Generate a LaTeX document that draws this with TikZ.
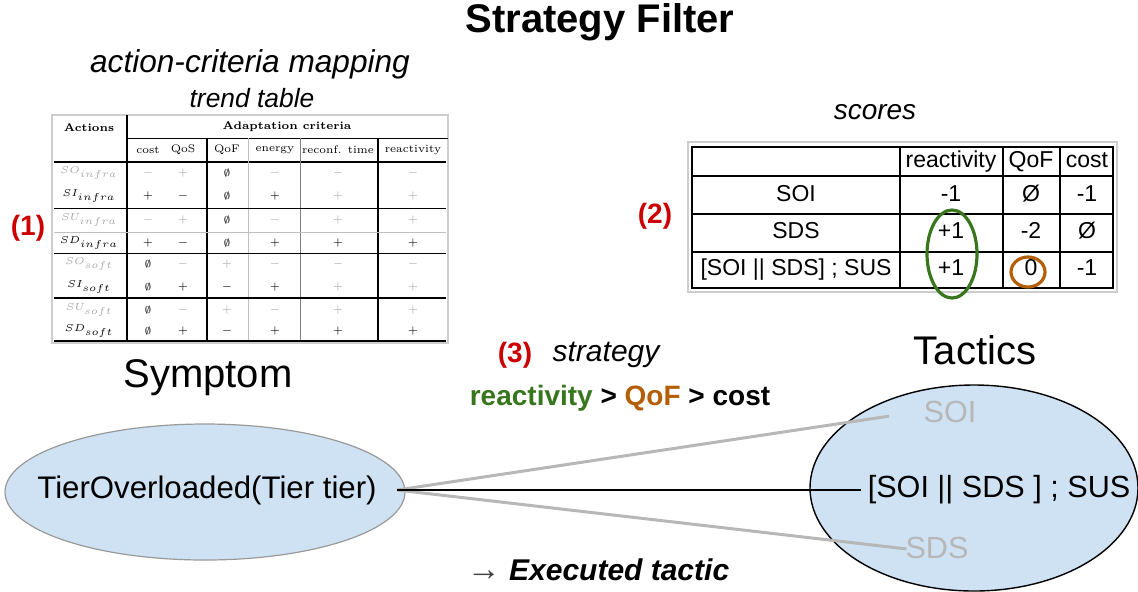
\documentclass[tikz,border=0pt]{standalone}
\usepackage{fontspec}
\setsansfont{Liberation Sans}
\usepackage{tikz}
\usetikzlibrary{shapes.geometric}

% faint entries of the scanned trend table
\newcommand{\fa}[1]{\textcolor{black!35}{#1}}
\newcommand{\fsz}[1]{\sffamily\fontsize{#1}{#1}\selectfont}

\begin{document}
\begin{tikzpicture}[x=0.5pt,y=-0.5pt,
  tcell/.style={font=\rmfamily\fontsize{5.5}{6}\selectfont, inner sep=0pt},
  scell/.style={font=\fsz{11.5}, inner sep=1pt, text height=0.75em, text depth=0.22em},
  numlbl/.style={font=\fsz{14}\bfseries, text=colRed},
  head/.style={font=\fsz{20}}]

% Colori
\definecolor{colFill}{HTML}{CFE2F3}
\definecolor{colRed}{HTML}{CC0000}
\definecolor{colGreen}{HTML}{38761D}
\definecolor{colOrange}{HTML}{B45F06}
\definecolor{colGray}{HTML}{B7B7B7}
\definecolor{colEdge}{HTML}{999999}

\useasboundingbox (0,0) rectangle (1138,591);

% Titolo
\node[font=\fsz{20}\bfseries] (title) at (600,22) {Strategy Filter};

% (1) trend table
\node[font=\fsz{15.8}\itshape] (acm) at (250,64) {action-criteria mapping};
\node[font=\fsz{13.2}\itshape] (trend) at (252,98) {trend table};
\node[numlbl] (one) at (28,228) {(1)};

\draw[colGray!70, line width=0.6pt] (52,115) rectangle (448,343);
\draw[line width=0.6pt] (127,115) -- (127,342);
\draw[line width=0.4pt] (127,138) -- (448,138);
\draw[line width=0.8pt] (54,162) -- (446,162);
\draw[line width=0.6pt] (207,138) -- (207,342);
\draw[black!25, line width=0.4pt] (248,138) -- (248,342);
\draw[black!50, line width=0.5pt] (300,138) -- (300,342);
\draw[line width=0.6pt] (378,138) -- (378,342);
\draw[line width=0.5pt] (54,208) -- (446,208);
\draw[black!25, line width=0.4pt] (54,232) -- (446,232);
\draw[line width=0.5pt] (54,253) -- (446,253);
\draw[line width=0.8pt] (54,298) -- (446,298);
\draw[line width=0.6pt] (54,341) -- (446,341);

\node[tcell, font=\rmfamily\fontsize{5.5}{6}\selectfont\bfseries] (tact) at (89,128) {Actions};
\node[tcell, font=\rmfamily\fontsize{5.5}{6}\selectfont\bfseries] (tcrit) at (287,127) {Adaptation criteria};
\foreach \x/\t [count=\i] in {148/cost, 183/QoS, 227/QoF, 275/energy, 338/{reconf. time}, 413/reactivity}
  \node[tcell] (th-\i) at (\x,150) {\t};

\foreach \lab/\y/\ca/\cb/\cc/\cd/\ce/\cf [count=\i] in {
  {\fa{$SO_{infra}$}}/173/\fa{$-$}/\fa{$+$}/$\emptyset$/\fa{$-$}/\fa{$-$}/\fa{$-$},
  {$SI_{infra}$}/196/$+$/$-$/$\emptyset$/$+$/\fa{$+$}/\fa{$+$},
  {\fa{$SU_{infra}$}}/220/\fa{$-$}/\fa{$+$}/$\emptyset$/\fa{$-$}/\fa{$+$}/\fa{$+$},
  {$SD_{infra}$}/243/$+$/$-$/$\emptyset$/$+$/$+$/$+$,
  {\fa{$SO_{soft}$}}/264/$\emptyset$/\fa{$-$}/\fa{$+$}/\fa{$-$}/\fa{$-$}/\fa{$-$},
  {$SI_{soft}$}/287/$\emptyset$/$+$/$-$/$+$/\fa{$+$}/\fa{$+$},
  {\fa{$SU_{soft}$}}/310/$\emptyset$/\fa{$-$}/\fa{$+$}/\fa{$-$}/\fa{$+$}/\fa{$+$},
  {$SD_{soft}$}/331/$\emptyset$/$+$/$-$/$+$/$+$/$+$}
{
  \node[tcell] (tr-\i-0) at (89,\y) {\lab};
  \node[tcell] (tr-\i-1) at (148,\y) {\ca};
  \node[tcell] (tr-\i-2) at (183,\y) {\cb};
  \node[tcell] (tr-\i-3) at (227,\y) {\cc};
  \node[tcell] (tr-\i-4) at (275,\y) {\cd};
  \node[tcell] (tr-\i-5) at (338,\y) {\ce};
  \node[tcell] (tr-\i-6) at (413,\y) {\cf};
}

% (2) scores
\node[font=\fsz{14}\itshape] (scores) at (875,112) {scores};
\node[numlbl] (two) at (655,216) {(2)};

\draw[colGray!70, line width=0.6pt] (688,142) rectangle (1117,292);
\draw[line width=0.7pt] (692,147) rectangle (1113,288);
\foreach \y in {176,214,252}
  \draw[line width=0.7pt] (692,\y) -- (1113,\y);
\foreach \x in {900,1003,1060}
  \draw[line width=0.7pt] (\x,147) -- (\x,288);

\foreach \y/\lab/\ra/\qa/\co [count=\i] in {
  162/{}/reactivity/QoF/cost,
  196/SOI/-1/Ø/-1,
  233/SDS/+1/-2/Ø,
  270/{[SOI || SDS] ; SUS}/+1/0/-1}
{
  \node[scell] (sc-\i-0) at (796,\y) {\lab};
  \node[scell] (sc-\i-1) at (951,\y) {\ra};
  \node[scell] (sc-\i-2) at (1031,\y) {\qa};
  \node[scell] (sc-\i-3) at (1087,\y) {\co};
}

% Evidenziazioni
\node[ellipse, draw=colGreen, line width=1.6pt, minimum width=25pt, minimum height=44pt] (hlReact) at (952,254) {};
\node[ellipse, draw=colOrange, line width=1.6pt, minimum width=17pt, minimum height=15pt] (hlQoF) at (1028,272) {};

% (3) strategy
\node[numlbl] (three) at (515,355) {(3)};
\node[font=\fsz{15}\itshape] (strat) at (606,355) {strategy};
\node[font=\fsz{14}\bfseries] (order) at (620,398)
  {\textcolor{colGreen}{reactivity} > \textcolor{colOrange}{QoF} > cost};

% Symptom
\node[head] (symptom) at (208,378) {Symptom};
\node[ellipse, draw=colEdge, line width=0.6pt, fill=colFill, minimum width=200pt, minimum height=68pt] (symp) at (205,492) {};
\node[font=\fsz{15.6}, inner xsep=10pt] (tier) at (207,490) {TierOverloaded(Tier tier)};

% Tactics
\node[head] (tactics) at (975,350) {Tactics};
\node[ellipse, draw, line width=0.7pt, fill=colFill, minimum width=164pt, minimum height=103pt] (tacs) at (974,488) {};
\node[font=\fsz{15.3}, text=colGray] (soi) at (950,412) {SOI};
\node[font=\fsz{15.3}] (sus) at (999,490) {[SOI || SDS ] ; SUS};
\node[font=\fsz{15.3}, text=colGray] (sds) at (937,548) {SDS};

% Collegamenti
\draw[colGray, line width=1.5pt, shorten >=14pt] (tier.east) -- (soi.west);
\draw[colGray, line width=1.5pt, shorten >=-4pt] (tier.east) -- (sds.west);
\draw[line width=1.2pt] (tier.east) -- (sus.west);

\node[font=\fsz{15}\bfseries\itshape] (exec) at (598,570)
  {\textcolor{black!75}{\mdseries\upshape\fontsize{17}{17}\selectfont →} Executed tactic};

\end{tikzpicture}
\end{document}
